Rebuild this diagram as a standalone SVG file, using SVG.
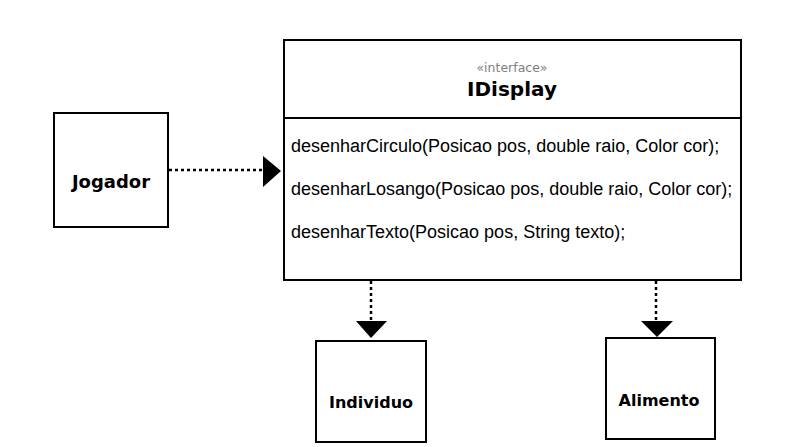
<svg xmlns="http://www.w3.org/2000/svg" width="794" height="447" viewBox="0 0 794 447">
<style>
.box{fill:#fff;stroke:#000;stroke-width:2}
.lbl{font-family:"DejaVu Sans",Verdana,sans-serif;font-weight:bold;font-size:16px;fill:#000;text-anchor:middle}
.m{font-family:"Liberation Sans",Arial,sans-serif;font-size:18px;fill:#000}
.dep{stroke:#000;stroke-width:2.5;stroke-dasharray:3 3;fill:none}
.head{fill:#000;stroke:none}
</style>
<rect width="794" height="447" fill="#fff"/>
<g id="IDisplay">
<rect class="box" x="284" y="40" width="457" height="240"/>
<line x1="284" y1="118" x2="741" y2="118" stroke="#000" stroke-width="2"/>
<text x="512" y="72" font-family="DejaVu Sans,Verdana,sans-serif" font-size="12.5" fill="#808080" text-anchor="middle">«interface»</text>
<text x="512" y="96" class="lbl" style="font-size:20px">IDisplay</text>
<text class="m" x="291" y="152">desenharCirculo(Posicao pos, double raio, Color cor);</text>
<text class="m" x="291" y="195">desenharLosango(Posicao pos, double raio, Color cor);</text>
<text class="m" x="291" y="238">desenharTexto(Posicao pos, String texto);</text>
</g>
<g id="Jogador">
<rect class="box" x="54" y="113" width="114" height="114"/>
<text class="lbl" x="111" y="188" style="font-size:18px">Jogador</text>
</g>
<g id="Individuo">
<rect class="box" x="316" y="341" width="110" height="101"/>
<text class="lbl" x="371" y="408">Individuo</text>
</g>
<g id="Alimento">
<rect class="box" x="606" y="338" width="109" height="101"/>
<text class="lbl" x="659" y="406">Alimento</text>
</g>
<g id="connectors">
<line class="dep" x1="169" y1="170" x2="264" y2="170"/>
<polygon class="head" points="263,156 281,171 263,187"/>
<line class="dep" x1="371" y1="281" x2="371" y2="321"/>
<polygon class="head" points="356,321 387,321 371,338"/>
<line class="dep" x1="656" y1="281" x2="656" y2="321"/>
<polygon class="head" points="641,321 673,321 657,337"/>
</g>
</svg>
